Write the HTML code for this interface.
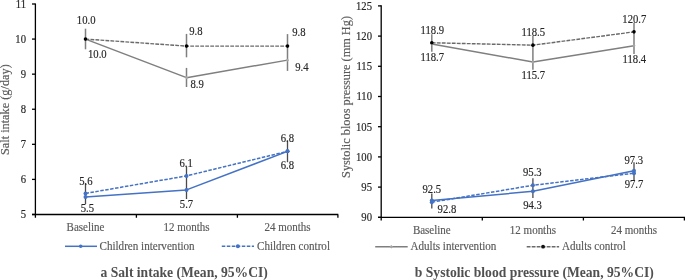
<!DOCTYPE html><html><head><meta charset="utf-8"><style>html,body{margin:0;padding:0;background:#fff;width:685px;height:280px;overflow:hidden}svg{display:block;will-change:transform}text{font-family:"Liberation Serif",serif}</style></head><body>
<svg width="685" height="280" viewBox="0 0 685 280">
<line x1="85.5" y1="28.7" x2="85.5" y2="49.3" stroke="#7f7f7f" stroke-width="1.5"/>
<line x1="186.5" y1="33.9" x2="186.5" y2="57.3" stroke="#7f7f7f" stroke-width="1.5"/>
<line x1="287.5" y1="34.1" x2="287.5" y2="70.9" stroke="#7f7f7f" stroke-width="1.5"/>
<line x1="186.5" y1="67.9" x2="186.5" y2="87" stroke="#7f7f7f" stroke-width="1.5"/>
<line x1="85.5" y1="183" x2="85.5" y2="204.2" stroke="#4a4a4a" stroke-width="1.3"/>
<line x1="186.5" y1="166.4" x2="186.5" y2="199" stroke="#4a4a4a" stroke-width="1.3"/>
<line x1="287.5" y1="140.4" x2="287.5" y2="162.2" stroke="#4a4a4a" stroke-width="1.3"/>
<polyline points="85.50,39.08 186.50,77.67 287.50,60.13" fill="none" stroke="#7f7f7f" stroke-width="1.5" stroke-linejoin="round"/>
<polyline points="85.50,39.08 186.50,46.10 287.50,46.10" fill="none" stroke="#6a6a6a" stroke-width="1.4" stroke-dasharray="3.8,1.2" stroke-linejoin="round"/>
<polyline points="85.50,196.94 186.50,189.92 287.50,151.34" fill="none" stroke="#4472c4" stroke-width="1.5" stroke-linejoin="round"/>
<polyline points="85.50,193.43 186.50,175.89 287.50,151.34" fill="none" stroke="#4472c4" stroke-width="1.5" stroke-dasharray="3.5,1.5" stroke-linejoin="round"/>
<path d="M83.90,39.08 L85.50,37.48 L87.10,39.08 L85.50,40.68 Z" fill="#a8a8a8"/>
<path d="M184.90,77.67 L186.50,76.07 L188.10,77.67 L186.50,79.27 Z" fill="#a8a8a8"/>
<path d="M285.90,60.13 L287.50,58.53 L289.10,60.13 L287.50,61.73 Z" fill="#a8a8a8"/>
<circle cx="85.50" cy="39.08" r="1.8" fill="#000"/>
<circle cx="186.50" cy="46.10" r="1.8" fill="#000"/>
<circle cx="287.50" cy="46.10" r="1.8" fill="#000"/>
<circle cx="85.50" cy="196.94" r="2" fill="#4472c4"/>
<circle cx="186.50" cy="189.92" r="2" fill="#4472c4"/>
<circle cx="287.50" cy="151.34" r="2" fill="#4472c4"/>
<circle cx="85.50" cy="193.43" r="2" fill="#4472c4"/>
<circle cx="186.50" cy="175.89" r="2" fill="#4472c4"/>
<circle cx="287.50" cy="151.34" r="2" fill="#4472c4"/>
<path d="M35.4,3.4 V214.5 M32,214.5 H338.3 M35.4,214.5 V217.8 M136.4,214.5 V217.8 M237.4,214.5 V217.8 M337.9,214.5 V217.8" stroke="#000" stroke-width="1.3" fill="none"/>
<line x1="32" y1="214.48" x2="35.4" y2="214.48" stroke="#000" stroke-width="1.3"/>
<line x1="32" y1="179.40" x2="35.4" y2="179.40" stroke="#000" stroke-width="1.3"/>
<line x1="32" y1="144.32" x2="35.4" y2="144.32" stroke="#000" stroke-width="1.3"/>
<line x1="32" y1="109.24" x2="35.4" y2="109.24" stroke="#000" stroke-width="1.3"/>
<line x1="32" y1="74.16" x2="35.4" y2="74.16" stroke="#000" stroke-width="1.3"/>
<line x1="32" y1="39.08" x2="35.4" y2="39.08" stroke="#000" stroke-width="1.3"/>
<line x1="32" y1="4.00" x2="35.4" y2="4.00" stroke="#000" stroke-width="1.3"/>
<text id="tl5" transform="translate(26.00,218.28) scale(1,1.1)" font-size="10.67" fill="#262626" text-anchor="end" font-weight="normal" stroke="#262626" stroke-width="0.15">5</text>
<text id="tl6" transform="translate(26.00,183.20) scale(1,1.1)" font-size="10.67" fill="#262626" text-anchor="end" font-weight="normal" stroke="#262626" stroke-width="0.15">6</text>
<text id="tl7" transform="translate(26.00,148.12) scale(1,1.1)" font-size="10.67" fill="#262626" text-anchor="end" font-weight="normal" stroke="#262626" stroke-width="0.15">7</text>
<text id="tl8" transform="translate(26.00,113.04) scale(1,1.1)" font-size="10.67" fill="#262626" text-anchor="end" font-weight="normal" stroke="#262626" stroke-width="0.15">8</text>
<text id="tl9" transform="translate(26.00,77.96) scale(1,1.1)" font-size="10.67" fill="#262626" text-anchor="end" font-weight="normal" stroke="#262626" stroke-width="0.15">9</text>
<text id="tl10" transform="translate(26.00,42.88) scale(1,1.1)" font-size="10.67" fill="#262626" text-anchor="end" font-weight="normal" stroke="#262626" stroke-width="0.15">10</text>
<text id="tl11" transform="translate(26.00,7.80) scale(1,1.1)" font-size="10.67" fill="#262626" text-anchor="end" font-weight="normal" stroke="#262626" stroke-width="0.15">11</text>
<text id="xl0" transform="translate(85.50,231.30) scale(1,1.06)" font-size="11.0" fill="#595959" text-anchor="middle" font-weight="normal" stroke="#595959" stroke-width="0.15">Baseline</text>
<text id="xl1" transform="translate(186.50,231.30) scale(1,1.06)" font-size="11.0" fill="#595959" text-anchor="middle" font-weight="normal" stroke="#595959" stroke-width="0.15">12 months</text>
<text id="xl2" transform="translate(287.50,231.30) scale(1,1.06)" font-size="11.0" fill="#595959" text-anchor="middle" font-weight="normal" stroke="#595959" stroke-width="0.15">24 months</text>
<text id="ttl_l" transform="translate(8.90,109.65) rotate(-90)" font-size="12.3" fill="#595959" text-anchor="middle" font-weight="normal" stroke="#595959" stroke-width="0.15">Salt intake (g/day)</text>
<line x1="431.8" y1="34.3" x2="431.8" y2="51.7" stroke="#7f7f7f" stroke-width="1.5"/>
<line x1="532.9" y1="36" x2="532.9" y2="69.7" stroke="#7f7f7f" stroke-width="1.5"/>
<line x1="634.0" y1="22.7" x2="634.0" y2="54" stroke="#7f7f7f" stroke-width="1.5"/>
<line x1="431.8" y1="193.6" x2="431.8" y2="208.6" stroke="#4a4a4a" stroke-width="1.3"/>
<line x1="532.9" y1="178.2" x2="532.9" y2="197.9" stroke="#4a4a4a" stroke-width="1.3"/>
<line x1="634.0" y1="162.2" x2="634.0" y2="180.5" stroke="#4a4a4a" stroke-width="1.3"/>
<polyline points="431.80,43.95 532.90,62.07 634.00,45.76" fill="none" stroke="#7f7f7f" stroke-width="1.5" stroke-linejoin="round"/>
<polyline points="431.80,42.74 532.90,45.16 634.00,31.87" fill="none" stroke="#6a6a6a" stroke-width="1.4" stroke-dasharray="3.8,1.2" stroke-linejoin="round"/>
<polyline points="431.80,200.39 532.90,191.33 634.00,170.79" fill="none" stroke="#4472c4" stroke-width="1.5" stroke-linejoin="round"/>
<polyline points="431.80,202.20 532.90,185.29 634.00,173.21" fill="none" stroke="#4472c4" stroke-width="1.5" stroke-dasharray="3.5,1.5" stroke-linejoin="round"/>
<path d="M430.20,43.95 L431.80,42.35 L433.40,43.95 L431.80,45.55 Z" fill="#a8a8a8"/>
<path d="M531.30,62.07 L532.90,60.47 L534.50,62.07 L532.90,63.67 Z" fill="#a8a8a8"/>
<path d="M632.40,45.76 L634.00,44.16 L635.60,45.76 L634.00,47.36 Z" fill="#a8a8a8"/>
<circle cx="431.80" cy="42.74" r="1.8" fill="#000"/>
<circle cx="532.90" cy="45.16" r="1.8" fill="#000"/>
<circle cx="634.00" cy="31.87" r="1.8" fill="#000"/>
<circle cx="431.80" cy="200.39" r="2" fill="#4472c4"/>
<circle cx="532.90" cy="191.33" r="2" fill="#4472c4"/>
<circle cx="634.00" cy="170.79" r="2" fill="#4472c4"/>
<circle cx="431.80" cy="202.20" r="2" fill="#4472c4"/>
<circle cx="532.90" cy="185.29" r="2" fill="#4472c4"/>
<circle cx="634.00" cy="173.21" r="2" fill="#4472c4"/>
<path d="M381.2,5.3 V217.3 M378,217.3 H685 M381.2,217.3 V220.5 M482.3,217.3 V220.5 M583.4,217.3 V220.5 M684.4,217.3 V220.5" stroke="#000" stroke-width="1.3" fill="none"/>
<line x1="378" y1="217.30" x2="381.2" y2="217.30" stroke="#000" stroke-width="1.3"/>
<line x1="378" y1="187.10" x2="381.2" y2="187.10" stroke="#000" stroke-width="1.3"/>
<line x1="378" y1="156.90" x2="381.2" y2="156.90" stroke="#000" stroke-width="1.3"/>
<line x1="378" y1="126.70" x2="381.2" y2="126.70" stroke="#000" stroke-width="1.3"/>
<line x1="378" y1="96.50" x2="381.2" y2="96.50" stroke="#000" stroke-width="1.3"/>
<line x1="378" y1="66.30" x2="381.2" y2="66.30" stroke="#000" stroke-width="1.3"/>
<line x1="378" y1="36.10" x2="381.2" y2="36.10" stroke="#000" stroke-width="1.3"/>
<line x1="378" y1="5.90" x2="381.2" y2="5.90" stroke="#000" stroke-width="1.3"/>
<text id="tr90" transform="translate(372.00,221.10) scale(1,1.1)" font-size="10.67" fill="#262626" text-anchor="end" font-weight="normal" stroke="#262626" stroke-width="0.15">90</text>
<text id="tr95" transform="translate(372.00,190.90) scale(1,1.1)" font-size="10.67" fill="#262626" text-anchor="end" font-weight="normal" stroke="#262626" stroke-width="0.15">95</text>
<text id="tr100" transform="translate(372.00,160.70) scale(1,1.1)" font-size="10.67" fill="#262626" text-anchor="end" font-weight="normal" stroke="#262626" stroke-width="0.15">100</text>
<text id="tr105" transform="translate(372.00,130.50) scale(1,1.1)" font-size="10.67" fill="#262626" text-anchor="end" font-weight="normal" stroke="#262626" stroke-width="0.15">105</text>
<text id="tr110" transform="translate(372.00,100.30) scale(1,1.1)" font-size="10.67" fill="#262626" text-anchor="end" font-weight="normal" stroke="#262626" stroke-width="0.15">110</text>
<text id="tr115" transform="translate(372.00,70.10) scale(1,1.1)" font-size="10.67" fill="#262626" text-anchor="end" font-weight="normal" stroke="#262626" stroke-width="0.15">115</text>
<text id="tr120" transform="translate(372.00,39.90) scale(1,1.1)" font-size="10.67" fill="#262626" text-anchor="end" font-weight="normal" stroke="#262626" stroke-width="0.15">120</text>
<text id="tr125" transform="translate(372.00,9.70) scale(1,1.1)" font-size="10.67" fill="#262626" text-anchor="end" font-weight="normal" stroke="#262626" stroke-width="0.15">125</text>
<text id="xr0" transform="translate(431.80,234.00) scale(1,1.06)" font-size="11.0" fill="#595959" text-anchor="middle" font-weight="normal" stroke="#595959" stroke-width="0.15">Baseline</text>
<text id="xr1" transform="translate(532.90,234.00) scale(1,1.06)" font-size="11.0" fill="#595959" text-anchor="middle" font-weight="normal" stroke="#595959" stroke-width="0.15">12 months</text>
<text id="xr2" transform="translate(634.00,234.00) scale(1,1.06)" font-size="11.0" fill="#595959" text-anchor="middle" font-weight="normal" stroke="#595959" stroke-width="0.15">24 months</text>
<text id="ttl_r" transform="translate(349.70,96.95) rotate(-90)" font-size="12.3" fill="#595959" text-anchor="middle" font-weight="normal" stroke="#595959" stroke-width="0.15">Systolic bloos pressure (mm Hg)</text>
<text id="d1" transform="translate(86.15,24.40) scale(1,1.08)" font-size="10.67" fill="#262626" text-anchor="middle" font-weight="normal" stroke="#262626" stroke-width="0.15">10.0</text>
<text id="d2" transform="translate(97.35,57.60) scale(1,1.08)" font-size="10.67" fill="#262626" text-anchor="middle" font-weight="normal" stroke="#262626" stroke-width="0.15">10.0</text>
<text id="d3" transform="translate(195.90,35.15) scale(1,1.08)" font-size="10.67" fill="#262626" text-anchor="middle" font-weight="normal" stroke="#262626" stroke-width="0.15">9.8</text>
<text id="d4" transform="translate(197.20,87.55) scale(1,1.08)" font-size="10.67" fill="#262626" text-anchor="middle" font-weight="normal" stroke="#262626" stroke-width="0.15">8.9</text>
<text id="d5" transform="translate(298.80,36.25) scale(1,1.08)" font-size="10.67" fill="#262626" text-anchor="middle" font-weight="normal" stroke="#262626" stroke-width="0.15">9.8</text>
<text id="d6" transform="translate(301.85,71.15) scale(1,1.08)" font-size="10.67" fill="#262626" text-anchor="middle" font-weight="normal" stroke="#262626" stroke-width="0.15">9.4</text>
<text id="d7" transform="translate(85.95,184.85) scale(1,1.08)" font-size="10.67" fill="#262626" text-anchor="middle" font-weight="normal" stroke="#262626" stroke-width="0.15">5.6</text>
<text id="d8" transform="translate(87.30,211.70) scale(1,1.08)" font-size="10.67" fill="#262626" text-anchor="middle" font-weight="normal" stroke="#262626" stroke-width="0.15">5.5</text>
<text id="d9" transform="translate(186.10,167.00) scale(1,1.08)" font-size="10.67" fill="#262626" text-anchor="middle" font-weight="normal" stroke="#262626" stroke-width="0.15">6.1</text>
<text id="d10" transform="translate(186.50,207.60) scale(1,1.08)" font-size="10.67" fill="#262626" text-anchor="middle" font-weight="normal" stroke="#262626" stroke-width="0.15">5.7</text>
<text id="d11" transform="translate(287.40,142.10) scale(1,1.08)" font-size="10.67" fill="#262626" text-anchor="middle" font-weight="normal" stroke="#262626" stroke-width="0.15">6.8</text>
<text id="d12" transform="translate(287.45,168.85) scale(1,1.08)" font-size="10.67" fill="#262626" text-anchor="middle" font-weight="normal" stroke="#262626" stroke-width="0.15">6.8</text>
<text id="d13" transform="translate(432.40,33.55) scale(1,1.08)" font-size="10.67" fill="#262626" text-anchor="middle" font-weight="normal" stroke="#262626" stroke-width="0.15">118.9</text>
<text id="d14" transform="translate(432.30,60.80) scale(1,1.08)" font-size="10.67" fill="#262626" text-anchor="middle" font-weight="normal" stroke="#262626" stroke-width="0.15">118.7</text>
<text id="d15" transform="translate(533.30,35.80) scale(1,1.08)" font-size="10.67" fill="#262626" text-anchor="middle" font-weight="normal" stroke="#262626" stroke-width="0.15">118.5</text>
<text id="d16" transform="translate(533.25,78.90) scale(1,1.08)" font-size="10.67" fill="#262626" text-anchor="middle" font-weight="normal" stroke="#262626" stroke-width="0.15">115.7</text>
<text id="d17" transform="translate(634.30,22.85) scale(1,1.08)" font-size="10.67" fill="#262626" text-anchor="middle" font-weight="normal" stroke="#262626" stroke-width="0.15">120.7</text>
<text id="d18" transform="translate(634.40,62.85) scale(1,1.08)" font-size="10.67" fill="#262626" text-anchor="middle" font-weight="normal" stroke="#262626" stroke-width="0.15">118.4</text>
<text id="d19" transform="translate(431.80,192.90) scale(1,1.08)" font-size="10.67" fill="#262626" text-anchor="middle" font-weight="normal" stroke="#262626" stroke-width="0.15">92.5</text>
<text id="d20" transform="translate(446.90,213.40) scale(1,1.08)" font-size="10.67" fill="#262626" text-anchor="middle" font-weight="normal" stroke="#262626" stroke-width="0.15">92.8</text>
<text id="d21" transform="translate(532.35,176.20) scale(1,1.08)" font-size="10.67" fill="#262626" text-anchor="middle" font-weight="normal" stroke="#262626" stroke-width="0.15">95.3</text>
<text id="d22" transform="translate(532.50,208.50) scale(1,1.08)" font-size="10.67" fill="#262626" text-anchor="middle" font-weight="normal" stroke="#262626" stroke-width="0.15">94.3</text>
<text id="d23" transform="translate(633.80,163.90) scale(1,1.08)" font-size="10.67" fill="#262626" text-anchor="middle" font-weight="normal" stroke="#262626" stroke-width="0.15">97.3</text>
<text id="d24" transform="translate(633.95,187.80) scale(1,1.08)" font-size="10.67" fill="#262626" text-anchor="middle" font-weight="normal" stroke="#262626" stroke-width="0.15">97.7</text>
<line x1="65" y1="246.3" x2="97" y2="246.3" stroke="#4472c4" stroke-width="1.5"/>
<circle cx="80.70" cy="246.30" r="1.8" fill="#4472c4"/>
<text id="lg1" transform="translate(99.50,250.30) scale(1,1.06)" font-size="11.1" fill="#595959" text-anchor="start" font-weight="normal" stroke="#595959" stroke-width="0.15">Children intervention</text>
<line x1="221.8" y1="246.3" x2="254" y2="246.3" stroke="#4472c4" stroke-width="1.5" stroke-dasharray="3.5,1.5"/>
<circle cx="237.85" cy="246.30" r="2" fill="#4472c4"/>
<text id="lg2" transform="translate(257.00,250.30) scale(1,1.06)" font-size="11.1" fill="#595959" text-anchor="start" font-weight="normal" stroke="#595959" stroke-width="0.15">Children control</text>
<line x1="375.2" y1="246.7" x2="407.7" y2="246.7" stroke="#7f7f7f" stroke-width="1.5"/>
<path d="M389.50,246.70 L391.30,244.90 L393.10,246.70 L391.30,248.50 Z" fill="#a6a6a6"/>
<text id="lg3" transform="translate(410.50,250.30) scale(1,1.06)" font-size="11.1" fill="#595959" text-anchor="start" font-weight="normal" stroke="#595959" stroke-width="0.15">Adults intervention</text>
<line x1="526.7" y1="246.7" x2="559.1" y2="246.7" stroke="#6a6a6a" stroke-width="1.4" stroke-dasharray="3.8,1.2"/>
<circle cx="543.05" cy="246.70" r="1.9" fill="#111"/>
<text id="lg4" transform="translate(562.00,250.30) scale(1,1.06)" font-size="11.1" fill="#595959" text-anchor="start" font-weight="normal" stroke="#595959" stroke-width="0.15">Adults control</text>
<text id="cap1" transform="translate(184.20,277.20)" font-size="13.6" fill="#505050" text-anchor="middle" font-weight="bold">a Salt intake (Mean, 95%CI)</text>
<text id="cap2" transform="translate(534.30,277.20)" font-size="13.6" fill="#505050" text-anchor="middle" font-weight="bold">b Systolic blood pressure (Mean, 95%CI)</text>
</svg></body></html>
